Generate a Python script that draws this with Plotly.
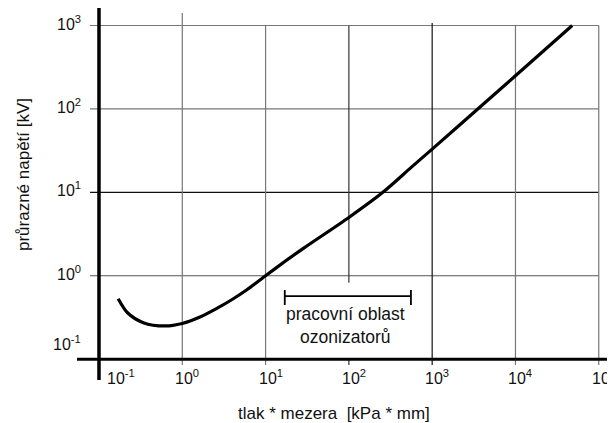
import math
import plotly.graph_objects as go

# ---- data ----
pd_kpa_mm = [0.17, 0.22, 0.34, 0.62, 1.0, 1.63, 2.6, 4.1, 5.9, 10, 17, 29, 100, 256, 560, 1000, 3500, 10000, 48000]
breakdown_kv = [0.53, 0.36, 0.274, 0.25, 0.268, 0.32, 0.406, 0.53, 0.675, 1.0, 1.48, 2.16, 5.0, 10, 19.9, 33.0, 99, 250, 1000]

x_ticks = [0.1, 1, 10, 100, 1000, 10000, 100000]
x_tick_labels = ["10<sup>-1</sup>", "10<sup>0</sup>", "10<sup>1</sup>", "10<sup>2</sup>",
                 "10<sup>3</sup>", "10<sup>4</sup>", "10<sup>5</sup>"]
y_ticks = [0.1, 1, 10, 100, 1000]
y_tick_labels = ["10<sup>-1</sup>", "10<sup>0</sup>", "10<sup>1</sup>", "10<sup>2</sup>", "10<sup>3</sup>"]

work_range = [17, 556]          # pracovní oblast ozonizatorů
work_level = 0.571
work_label = "pracovní oblast<br>ozonizatorů"
work_label_pos = [90, 0.25]

x_title = "tlak * mezera  [kPa * mm]"
y_title = "průrazné napětí [kV]"

# ---- styling ----
FONT = "Liberation Sans, Arial, sans-serif"
L = math.log10
x_range = [-1.264, 5.195]
y_range = [-1.25, 3.21]
x_origin = x_ticks[0]
y_origin = y_ticks[0]
grid_left = 10 ** -1.108
stub_low = 10 ** -1.07
h_grid_color = {1: "#555", 10: "#111", 100: "#777", 1000: "#777"}
v_grid_color = {1: "#777", 10: "#777", 100: "#333", 1000: "#111", 10000: "#777", 100000: "#777"}
v_grid_top = {1: 10 ** 3.15, 1000: 10 ** 3.03}

fig = go.Figure()

# grid lines as thin traces (data coordinates)
for v in y_ticks[1:]:
    fig.add_trace(go.Scatter(x=[grid_left, x_ticks[-1]], y=[v, v], mode="lines",
                             line=dict(color=h_grid_color[v], width=1.2),
                             hoverinfo="skip", showlegend=False))
for v in x_ticks[1:]:
    top = v_grid_top.get(v, y_ticks[-1])
    if v == 100:
        segs = [[10 ** -0.085, top], [stub_low, y_origin]]
    else:
        segs = [[stub_low, top]]
    for y0, y1 in segs:
        fig.add_trace(go.Scatter(x=[v, v], y=[y0, y1], mode="lines",
                                 line=dict(color=v_grid_color[v], width=1.2),
                                 hoverinfo="skip", showlegend=False))

# Paschen curve
fig.add_trace(go.Scatter(x=pd_kpa_mm, y=breakdown_kv, mode="lines",
                         line=dict(color="black", width=3.2, shape="spline", smoothing=0.8),
                         hoverinfo="skip", showlegend=False))

# working-range bracket
cap_lo, cap_hi = work_level * 0.78, work_level * 1.18
fig.add_trace(go.Scatter(
    x=[work_range[0], work_range[1], None, work_range[0], work_range[0], None, work_range[1], work_range[1]],
    y=[work_level, work_level, None, cap_lo, cap_hi, None, cap_lo, cap_hi],
    mode="lines", line=dict(color="black", width=1.8),
    hoverinfo="skip", showlegend=False))

shapes = [
    # y axis line (at x = 10^-1)
    dict(type="line", xref="x", yref="paper", x0=x_origin, x1=x_origin, y0=0, y1=1,
         line=dict(color="black", width=3.5)),
    # x axis line (at y = 10^-1)
    dict(type="line", xref="paper", yref="y", x0=0, x1=1, y0=y_origin, y1=y_origin,
         line=dict(color="black", width=3)),
]

annotations = []
for v, t in zip(y_ticks, y_tick_labels):
    annotations.append(dict(x=L(x_origin), y=L(v), xref="x", yref="y", text=t, showarrow=False,
                            xanchor="right", yanchor="middle", xshift=-16,
                            yshift=3 + (13 if v == y_origin else 0),
                            font=dict(family=FONT, size=16, color="#111")))
for v, t in zip(x_ticks, x_tick_labels):
    annotations.append(dict(x=L(v), y=0, xref="x", yref="paper", text=t, showarrow=False,
                            xanchor="center", yanchor="middle",
                            xshift=(22 if v == x_origin else 5), yshift=3,
                            font=dict(family=FONT, size=16, color="#111")))
annotations.append(dict(x=L(work_label_pos[0]), y=L(work_label_pos[1]), xref="x", yref="y",
                        text=work_label, showarrow=False, xanchor="center", yanchor="middle",
                        font=dict(family=FONT, size=17.5, color="#111")))
annotations.append(dict(x=0.5, y=0, xref="paper", yref="paper", text=x_title, showarrow=False,
                        xanchor="center", yanchor="middle", xshift=-12, yshift=-33,
                        font=dict(family=FONT, size=17, color="#111")))
annotations.append(dict(x=0, y=0.551, xref="paper", yref="paper", text=y_title, showarrow=False,
                        textangle=-90, xanchor="center", yanchor="middle", xshift=-54,
                        font=dict(family=FONT, size=17, color="#111")))

# page body has an 8px margin, so the figure is drawn 8px smaller with shifted margins
fig.update_layout(
    width=607, height=415,
    margin=dict(l=69, r=0, t=0, b=43),
    paper_bgcolor="white", plot_bgcolor="white",
    xaxis=dict(type="log", range=x_range, showgrid=False, zeroline=False, showline=False,
               showticklabels=False, ticks="", fixedrange=True),
    yaxis=dict(type="log", range=y_range, showgrid=False, zeroline=False, showline=False,
               showticklabels=False, ticks="", fixedrange=True),
    shapes=shapes, annotations=annotations,
    font=dict(family=FONT),
)

fig.write_html("out.html")
